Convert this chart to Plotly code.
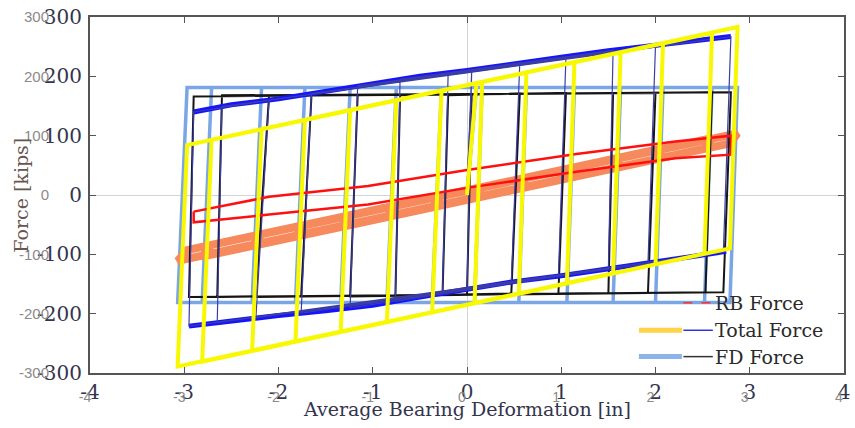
import plotly.graph_objects as go

# ---------------- data ----------------
# Model total force (yellow) reversal path
model_x = [0.0, 0.1, 0.16, 0.08, -0.37, -0.27, 0.63, 0.55, -0.85, -0.75, 1.14, 1.06,
           -1.34, -1.24, 1.63, 1.55, -1.82, -1.72, 2.08, 2.0, -2.28, -2.18, 2.6, 2.52,
           -2.81, -2.71, 2.87, 2.79, -3.07, -2.97, 0.0]
model_total = [0, 188, 190, -182, -198, 176, 206, -166, -214, 160, 224, -149,
               -231, 143, 240, -132, -247, 127, 256, -117, -263, 111, 273, -99,
               -281, 93, 283, -90, -289, 84, 185]
# Model FD force (light blue)
model_fd = [0, 181, 181, -181, -181, 181, 181, -181, -181, 181, 181, -181,
            -181, 181, 181, -181, -181, 181, 181, -181, -181, 181, 181, -181,
            -181, 181, 181, -181, -181, 181, 181]
# Model RB force (orange)
model_rb = [0, 11, 13, -5, -21, -1, 29, 11, -37, -18, 47, 28,
            -54, -34, 63, 45, -70, -51, 79, 60, -86, -66, 96, 78,
            -104, -84, 104, 87, -111, -93, 8]

# Experimental reversal path (blue total, black FD)
exp_x = [0.0, 0.05, 0.0, -0.26, -0.2, 0.56, 0.47, -0.76, -0.71, 1.05, 0.97, -1.24,
         -1.16, 1.55, 1.5, -1.76, -1.65, 2.0, 1.92, -2.24, -2.1, 2.6, 2.53, -2.65,
         -2.6, 2.8, 2.72, -2.95, -2.9, 0.0]
exp_total = [0, 211, -158, -165, 205, 223, -147, -179, 195, 233, -137, -190,
             184, 244, -125, -199, 171, 252, -116, -207, 160, 263, -100, -215,
             149, 267, -96, -221, 140, 210]
exp_fd = [0, 170, -168, -169, 168, 171, -166, -170, 168, 172, -166, -171,
          168, 172, -165, -171, 168, 172, -165, -172, 168, 173, -164, -172,
          168, 173, -164, -172, 166, 170]
# Experimental total force envelopes (thick blue bands)
env_up_x = [-2.9, -2.5, -2.0, -1.5, -1.0, -0.5, 0.0, 0.5, 1.0, 1.5, 2.0, 2.5, 2.8]
env_up_y = [140, 152, 162, 175, 188, 200, 210, 222, 232, 243, 252, 261, 267]
env_lo_x = [-2.95, -2.5, -2.0, -1.5, -1.0, -0.5, 0.0, 0.5, 1.0, 1.5, 2.0, 2.5, 2.75]
env_lo_y = [-221, -212, -203, -195, -186, -172, -158, -146, -136, -125, -114, -101, -95]
# Experimental RB force (red)
rb_x = [-2.9, -2.1, -1.05, 0.0, 1.16, 2.21, 2.8, 2.8, 2.21, 1.16, 0.0, -1.05, -2.1, -2.9, -2.9]
rb_y = [-28, -3, 15, 42, 69, 90, 100, 68, 62, 39, 12, -16, -33, -46, -28]

x_ticks = [-4, -3, -2, -1, 0, 1, 2, 3, 4]
x_tick_labels = ["-4", "-3", "-2", "-1", "0", "1", "2", "3", "4"]
y_ticks = [-300, -200, -100, 0, 100, 200, 300]
y_tick_labels = ["-300", "-200", "-100", "0", "100", "200", "300"]
legend_names = ["RB Force", "Total Force", "FD Force"]

SERIF = "DejaVu Serif"
fig = go.Figure()

fig.add_trace(go.Scatter(x=model_x, y=model_fd, mode="lines",
                         line=dict(color="#7ba6e6", width=3.5), showlegend=False))
fig.add_trace(go.Scatter(x=model_x, y=model_rb, mode="lines",
                         line=dict(color="#f78a5c", width=8), showlegend=False))
fig.add_trace(go.Scatter(x=exp_x, y=exp_fd, mode="lines",
                         line=dict(color="#151515", width=2), showlegend=False))
fig.add_trace(go.Scatter(x=env_up_x, y=env_up_y, mode="lines",
                         line=dict(color="#1414ff", width=5), showlegend=False))
fig.add_trace(go.Scatter(x=env_lo_x, y=env_lo_y, mode="lines",
                         line=dict(color="#1414ff", width=5), showlegend=False))
fig.add_trace(go.Scatter(x=exp_x, y=exp_total, mode="lines",
                         line=dict(color="#3c3ca8", width=1.2), showlegend=False))
fig.add_trace(go.Scatter(x=rb_x, y=rb_y, mode="lines",
                         line=dict(color="#ff1010", width=2.5), showlegend=False))
fig.add_trace(go.Scatter(x=model_x, y=model_total, mode="lines",
                         line=dict(color="#f8f800", width=4), showlegend=False))
# invisible trace to activate the overlaid (gray) label axes
fig.add_trace(go.Scatter(x=[None], y=[None], xaxis="x2", yaxis="y2",
                         mode="lines", showlegend=False, hoverinfo="skip"))

axis_common = dict(showline=True, linecolor="#555555", linewidth=2, mirror="allticks",
                   ticks="inside", ticklen=6, tickcolor="#555555", showgrid=False,
                   zeroline=True, zerolinecolor="#d4d4d4", zerolinewidth=1,
                   ticklabeloverflow="allow",
                   tickfont=dict(family=SERIF, size=20, color="#34344c"))

fig.update_layout(
    width=855, height=428,
    margin=dict(l=90, r=5, t=8, b=55),
    paper_bgcolor="white", plot_bgcolor="white",
    xaxis=dict(range=[-4, 4], tickvals=x_ticks, ticktext=x_tick_labels, **axis_common),
    yaxis=dict(range=[-300, 300], tickvals=y_ticks, ticktext=y_tick_labels,
               ticklabelstandoff=2, **axis_common),
    xaxis2=dict(range=[-4, 4], overlaying="x", anchor="y", side="bottom",
                tickvals=x_ticks, ticktext=x_tick_labels, showline=False,
                showgrid=False, zeroline=False, ticks="", ticklabelstandoff=14,
                ticklabelshift=-5, ticklabeloverflow="allow",
                tickfont=dict(family="Liberation Sans", size=14, color="#8a8a8a")),
    yaxis2=dict(range=[-300, 300], overlaying="y", anchor="x", side="left",
                tickvals=y_ticks, ticktext=y_tick_labels, showline=False,
                showgrid=False, zeroline=False, ticks="", ticklabelstandoff=40,
                ticklabeloverflow="allow",
                tickfont=dict(family="Liberation Sans", size=15, color="#8a8a8a")),
)

# axis titles
fig.add_annotation(x=0.5, y=-0.101, xref="paper", yref="paper", showarrow=False,
                   text="Average Bearing Deformation [in]", xanchor="center", yanchor="middle",
                   font=dict(family=SERIF, size=19, color="#34344c"))
fig.add_annotation(x=-0.092, y=0.5, xref="paper", yref="paper", showarrow=False,
                   text="Force [kips]", textangle=-90, xanchor="center", yanchor="middle",
                   font=dict(family=SERIF, size=19, color="#6a5550"))

# manual legend (each entry shows a model sample and an experiment sample)
legend_y = [0.197, 0.120, 0.046]
thick_colors = [None, "#ffd24a", "#8ab4ea"]
thin_colors = ["#ff3030", "#3030e0", "#333333"]
for i, name in enumerate(legend_names):
    if thick_colors[i]:
        fig.add_shape(type="line", xref="paper", yref="paper",
                      x0=0.728, x1=0.785, y0=legend_y[i], y1=legend_y[i],
                      line=dict(color=thick_colors[i], width=5))
    fig.add_shape(type="line", xref="paper", yref="paper",
                  x0=0.787, x1=0.826, y0=legend_y[i], y1=legend_y[i],
                  line=dict(color=thin_colors[i], width=1.5,
                            dash="dash" if i == 0 else "solid"))
    fig.add_annotation(x=0.826, y=legend_y[i], xref="paper", yref="paper",
                       text=name, showarrow=False, xanchor="left", yanchor="middle",
                       font=dict(family=SERIF, size=19, color="#2a2a2a"))

fig.write_html("out.html", config={"displayModeBar": False},
               post_script="document.body.style.margin='0';")
